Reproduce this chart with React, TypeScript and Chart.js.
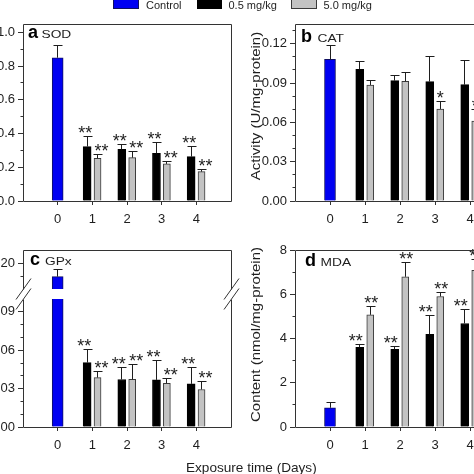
import React, { useEffect, useRef } from "react";
import { Chart, registerables } from "chart.js";

Chart.register(...registerables);

// ---------------- data ----------------
const DAY_TICKS = [0, 1, 2, 3, 4];
const TREAT_DAYS = [1, 2, 3, 4];
const SERIES_NAMES = ["Control", "0.5 mg/kg", "5.0 mg/kg"];
const X_TITLE = "Exposure time (Days)";

// (a) SOD
const SOD_CONTROL = 0.85;
const SOD_CONTROL_ERR = 0.07;
const SOD_LOW = [0.323, 0.307, 0.283, 0.263];
const SOD_LOW_ERR = [0.06, 0.028, 0.064, 0.058];
const SOD_LOW_SIG = ["**", "**", "**", "**"];
const SOD_HIGH = [0.253, 0.257, 0.22, 0.174];
const SOD_HIGH_ERR = [0.024, 0.034, 0.012, 0.014];
const SOD_HIGH_SIG = ["**", "**", "**", "**"];

// (b) CAT
const CAT_CONTROL = 0.108;
const CAT_CONTROL_ERR = 0.0105;
const CAT_LOW = [0.1004, 0.0918, 0.091, 0.0887];
const CAT_LOW_ERR = [0.006, 0.004, 0.019, 0.0188];
const CAT_LOW_SIG = ["", "", "", ""];
const CAT_HIGH = [0.0885, 0.0913, 0.0702, 0.061];
const CAT_HIGH_ERR = [0.0035, 0.0066, 0.006, 0.0085];
const CAT_HIGH_SIG = ["", "", "*", "*"];

// (c) GPx
const GPX_CONTROL = 0.1895;
const GPX_CONTROL_ERR = 0.0053;
const GPX_LOW = [0.0503, 0.0371, 0.0368, 0.0337];
const GPX_LOW_ERR = [0.0106, 0.0091, 0.0148, 0.013];
const GPX_LOW_SIG = ["**", "**", "**", "**"];
const GPX_HIGH = [0.0386, 0.0373, 0.0342, 0.0293];
const GPX_HIGH_ERR = [0.005, 0.0114, 0.0039, 0.0062];
const GPX_HIGH_SIG = ["**", "**", "**", "**"];

// (d) MDA
const MDA_CONTROL = 0.87;
const MDA_CONTROL_ERR = 0.23;
const MDA_LOW = [3.6, 3.51, 4.19, 4.68];
const MDA_LOW_ERR = [0.12, 0.15, 0.86, 0.62];
const MDA_LOW_SIG = ["**", "**", "**", "**"];
const MDA_HIGH = [5.07, 6.79, 5.9, 7.08];
const MDA_HIGH_ERR = [0.38, 0.63, 0.17, 0.5];
const MDA_HIGH_SIG = ["**", "**", "**", "**"];

// ---------------- layout / style ----------------
const OFF = 60;
const CW = 594;
const CH = 474;
const YW = 70;
const XH = 40;
const FONT = '"Liberation Sans", Arial, Helvetica, sans-serif';
const BLUE = "#0000f2";
const GRAY = "#c3c3c3";
const INK = "#1e1e1e";

type Panel = {
  L: number; T: number; R: number; B: number;
  yMin: number; yMax: number; majors: number[]; minorStep: number; decimals: number;
  showX: boolean; frameTop: boolean; frameBottom: boolean;
  letter?: string; name?: string; letterPos?: [number, number]; namePos?: [number, number];
  yTitle?: string; yTitlePos?: [number, number];
  breaks?: number[];
  datasets: any[];
  extras?: (ctx: CanvasRenderingContext2D) => void;
};

function controlSet(v: number, e: number) {
  return {
    label: SERIES_NAMES[0],
    data: [{ x: 0, y: v }],
    errors: [e],
    stars: [""],
    starDx: 0,
    backgroundColor: BLUE,
    borderColor: "#101060",
    borderWidth: 1,
    barThickness: 11,
  };
}
function lowSet(v: number[], e: number[], s: string[], dx: number) {
  return {
    label: SERIES_NAMES[1],
    data: TREAT_DAYS.map((d, i) => ({ x: d - 0.15, y: v[i] })),
    errors: e,
    stars: s,
    starDx: dx,
    backgroundColor: "#000000",
    borderColor: "#000000",
    borderWidth: 1,
    barThickness: 8,
  };
}
function highSet(v: number[], e: number[], s: string[], dx: number) {
  return {
    label: SERIES_NAMES[2],
    data: TREAT_DAYS.map((d, i) => ({ x: d + 0.15, y: v[i] })),
    errors: e,
    stars: s,
    starDx: dx,
    backgroundColor: GRAY,
    borderColor: "#3a3a3a",
    borderWidth: 1,
    barThickness: 7,
  };
}

const al = (v: number) => Math.round(v - 0.5) + 0.5;

function legendAndTitle(ctx: CanvasRenderingContext2D) {
  const X = (v: number) => v + OFF;
  const boxes = [
    { x: 113, w: 26, fill: BLUE, stroke: "#101060", tx: 146 },
    { x: 197, w: 25, fill: "#000000", stroke: "#000000", tx: 228.5 },
    { x: 291, w: 26, fill: GRAY, stroke: "#3a3a3a", tx: 323.5 },
  ];
  boxes.forEach((b, i) => {
    ctx.fillStyle = b.fill;
    ctx.fillRect(X(b.x), -3, b.w, 12);
    ctx.strokeStyle = b.stroke;
    ctx.lineWidth = 1;
    ctx.strokeRect(X(b.x) + 0.5, -2.5, b.w - 1, 11);
    ctx.fillStyle = INK;
    ctx.font = `11px ${FONT}`;
    ctx.textAlign = "left";
    ctx.textBaseline = "alphabetic";
    ctx.fillText(SERIES_NAMES[i], X(b.tx), 9);
  });
  ctx.font = `13.6px ${FONT}`;
  ctx.fillStyle = INK;
  ctx.textAlign = "left";
  ctx.fillText(X_TITLE, X(186), 471.5);
}

function decor(p: Panel) {
  return {
    id: "decor",
    afterDatasetsDraw(chart: any) {
      const ctx: CanvasRenderingContext2D = chart.ctx;
      const ca = chart.chartArea;
      const ys = chart.scales.y;
      chart.data.datasets.forEach((ds: any, di: number) => {
        const meta = chart.getDatasetMeta(di);
        meta.data.forEach((el: any, j: number) => {
          const top = ys.getPixelForValue(ds.data[j].y + ds.errors[j]);
          const x = al(el.x);
          const ty = al(top);
          ctx.save();
          ctx.beginPath();
          ctx.rect(ca.left, ca.top - 1, ca.right - ca.left, ca.bottom - ca.top + 1);
          ctx.clip();
          ctx.strokeStyle = INK;
          ctx.lineWidth = 1;
          ctx.beginPath();
          ctx.moveTo(x, el.y);
          ctx.lineTo(x, ty);
          ctx.moveTo(x - 4, ty);
          ctx.lineTo(x + 5, ty);
          ctx.stroke();
          ctx.restore();
          const s = ds.stars[j];
          if (s) {
            ctx.save();
            ctx.font = `18px ${FONT}`;
            ctx.fillStyle = INK;
            ctx.textAlign = "center";
            ctx.textBaseline = "alphabetic";
            ctx.fillText(s, el.x + (s.length > 1 ? ds.starDx : 0), top + 2.5);
            ctx.restore();
          }
        });
      });
    },
    afterDraw(chart: any) {
      const ctx: CanvasRenderingContext2D = chart.ctx;
      const ca = chart.chartArea;
      const ys = chart.scales.y;
      const X = (v: number) => v + OFF;
      const l = al(ca.left), r = al(ca.right), t = al(ca.top), b = al(ca.bottom);
      ctx.save();
      ctx.strokeStyle = "#333333";
      ctx.lineWidth = 1;
      ctx.beginPath();
      ctx.moveTo(l, t); ctx.lineTo(l, b);
      ctx.moveTo(r, t); ctx.lineTo(r, b);
      if (p.frameTop) { ctx.moveTo(l, t); ctx.lineTo(r, t); }
      if (p.frameBottom) { ctx.moveTo(l, b); ctx.lineTo(r, b); }
      ctx.stroke();
      // minor ticks
      ctx.beginPath();
      const n = Math.round((p.yMax - p.yMin) / p.minorStep);
      for (let k = 1; k <= n; k++) {
        const v = p.yMin + k * p.minorStep;
        if (v >= p.yMax - 1e-9) continue;
        if (p.majors.some((m) => Math.abs(m - v) < p.minorStep / 10)) continue;
        const yy = al(ys.getPixelForValue(v));
        ctx.moveTo(l - 3, yy); ctx.lineTo(l, yy);
      }
      ctx.stroke();
      // axis breaks
      if (p.breaks) {
        ctx.beginPath();
        [l, r].forEach((xx) => {
          p.breaks!.forEach((by) => {
            ctx.moveTo(xx - 7.5, by + 10.5);
            ctx.lineTo(xx + 7.5, by - 10.5);
          });
        });
        ctx.stroke();
      }
      ctx.restore();
      if (p.letter && p.letterPos) {
        ctx.save();
        ctx.font = `bold 18px ${FONT}`;
        ctx.fillStyle = "#000";
        ctx.textAlign = "left";
        ctx.textBaseline = "alphabetic";
        ctx.fillText(p.letter, X(p.letterPos[0]), p.letterPos[1]);
        ctx.restore();
      }
      if (p.name && p.namePos) {
        ctx.save();
        ctx.translate(X(p.namePos[0]), p.namePos[1]);
        ctx.scale(1.25, 1);
        ctx.font = `11px ${FONT}`;
        ctx.fillStyle = INK;
        ctx.textAlign = "left";
        ctx.textBaseline = "alphabetic";
        ctx.fillText(p.name, 0, 0);
        ctx.restore();
      }
      if (p.yTitle && p.yTitlePos) {
        ctx.save();
        ctx.translate(X(p.yTitlePos[0]), p.yTitlePos[1]);
        ctx.rotate(-Math.PI / 2);
        ctx.scale(1.25, 1);
        ctx.font = `12px ${FONT}`;
        ctx.fillStyle = INK;
        ctx.textAlign = "center";
        ctx.textBaseline = "middle";
        ctx.fillText(p.yTitle, 0, 0);
        ctx.restore();
      }
      if (p.extras) p.extras(ctx);
    },
  };
}

const PANELS: Panel[] = [
  {
    L: 23, T: 24, R: 231, B: 201,
    yMin: 0, yMax: 1.05, majors: [0, 0.2, 0.4, 0.6, 0.8, 1.0], minorStep: 0.1, decimals: 1,
    showX: true, frameTop: true, frameBottom: true,
    letter: "a", name: "SOD", letterPos: [28, 38], namePos: [41.5, 38],
    datasets: [
      controlSet(SOD_CONTROL, SOD_CONTROL_ERR),
      lowSet(SOD_LOW, SOD_LOW_ERR, SOD_LOW_SIG, -2),
      highSet(SOD_HIGH, SOD_HIGH_ERR, SOD_HIGH_SIG, 4),
    ],
    extras: legendAndTitle,
  },
  {
    L: 295, T: 24, R: 505, B: 201,
    yMin: 0, yMax: 0.135, majors: [0, 0.03, 0.06, 0.09, 0.12], minorStep: 0.01, decimals: 2,
    showX: true, frameTop: true, frameBottom: true,
    letter: "b", name: "CAT", letterPos: [301, 41.5], namePos: [317.5, 41.5],
    yTitle: "Activity (U/mg-protein)", yTitlePos: [257, 106],
    datasets: [
      controlSet(CAT_CONTROL, CAT_CONTROL_ERR),
      lowSet(CAT_LOW, CAT_LOW_ERR, CAT_LOW_SIG, -2),
      highSet(CAT_HIGH, CAT_HIGH_ERR, CAT_HIGH_SIG, 3),
    ],
  },
  {
    L: 23, T: 250, R: 231, B: 289,
    yMin: 0.18, yMax: 0.21, majors: [0.2], minorStep: 0.01, decimals: 2,
    showX: false, frameTop: true, frameBottom: false,
    letter: "c", name: "GPx", letterPos: [30, 264.5], namePos: [45, 264.5],
    datasets: [controlSet(GPX_CONTROL, GPX_CONTROL_ERR)],
  },
  {
    L: 23, T: 299, R: 231, B: 427,
    yMin: 0, yMax: 0.1, majors: [0, 0.03, 0.06, 0.09], minorStep: 0.01, decimals: 2,
    showX: true, frameTop: false, frameBottom: true,
    breaks: [289, 299],
    datasets: [
      controlSet(GPX_CONTROL, GPX_CONTROL_ERR),
      lowSet(GPX_LOW, GPX_LOW_ERR, GPX_LOW_SIG, -3),
      highSet(GPX_HIGH, GPX_HIGH_ERR, GPX_HIGH_SIG, 4),
    ],
  },
  {
    L: 295, T: 250, R: 505, B: 427,
    yMin: 0, yMax: 8, majors: [0, 2, 4, 6, 8], minorStep: 1, decimals: 0,
    showX: true, frameTop: true, frameBottom: true,
    letter: "d", name: "MDA", letterPos: [305, 266.3], namePos: [320.5, 266.3],
    yTitle: "Content (nmol/mg-protein)", yTitlePos: [257, 334.5],
    datasets: [
      controlSet(MDA_CONTROL, MDA_CONTROL_ERR),
      lowSet(MDA_LOW, MDA_LOW_ERR, MDA_LOW_SIG, -4),
      highSet(MDA_HIGH, MDA_HIGH_ERR, MDA_HIGH_SIG, 1),
    ],
  },
];

function makeChart(canvas: HTMLCanvasElement, p: Panel) {
  const tickFont = { family: FONT, size: 13 };
  return new Chart(canvas, {
    type: "bar",
    data: { datasets: p.datasets as any },
    options: {
      responsive: false,
      animation: false,
      events: [],
      datasets: { bar: { grouped: false } } as any,
      layout: {
        padding: {
          left: p.L + OFF - YW,
          top: p.T,
          right: CW - (p.R + OFF),
          bottom: CH - p.B - (p.showX ? XH : 0),
        },
      },
      plugins: { legend: { display: false }, tooltip: { enabled: false }, title: { display: false } },
      scales: {
        x: {
          type: "linear",
          min: -1,
          max: 5,
          offset: false,
          display: p.showX,
          afterBuildTicks: (s: any) => { s.ticks = DAY_TICKS.map((v) => ({ value: v })); },
          afterFit: (s: any) => { s.height = p.showX ? XH : 0; },
          ticks: { callback: (v: any) => String(v), font: tickFont, color: INK, padding: 7, maxRotation: 0, autoSkip: false },
          grid: { drawOnChartArea: false, drawTicks: true, tickLength: 4, color: "#333333", lineWidth: 1, offset: false },
          border: { display: false },
        },
        y: {
          type: "linear",
          min: p.yMin,
          max: p.yMax,
          afterBuildTicks: (s: any) => { s.ticks = p.majors.map((v) => ({ value: v })); },
          afterFit: (s: any) => { s.width = YW; },
          ticks: { callback: (v: any) => Number(v).toFixed(p.decimals), font: tickFont, color: INK, padding: 3, autoSkip: false },
          grid: { drawOnChartArea: false, drawTicks: true, tickLength: 5, color: "#333333", lineWidth: 1 },
          border: { display: false },
        },
      },
    } as any,
    plugins: [decor(p) as any],
  });
}

export default function App() {
  const canvases = useRef<(HTMLCanvasElement | null)[]>([]);
  useEffect(() => {
    const charts = PANELS.map((p, i) => makeChart(canvases.current[i]!, p));
    return () => charts.forEach((c) => c.destroy());
  }, []);
  return (
    <div style={{ position: "fixed", left: 0, top: 0, width: 474, height: 474, overflow: "hidden", background: "#fff" }}>
      {PANELS.map((_, i) => (
        <canvas
          key={i}
          ref={(el) => { canvases.current[i] = el; }}
          width={CW}
          height={CH}
          style={{ position: "absolute", left: -OFF, top: 0, width: CW, height: CH }}
        />
      ))}
    </div>
  );
}
